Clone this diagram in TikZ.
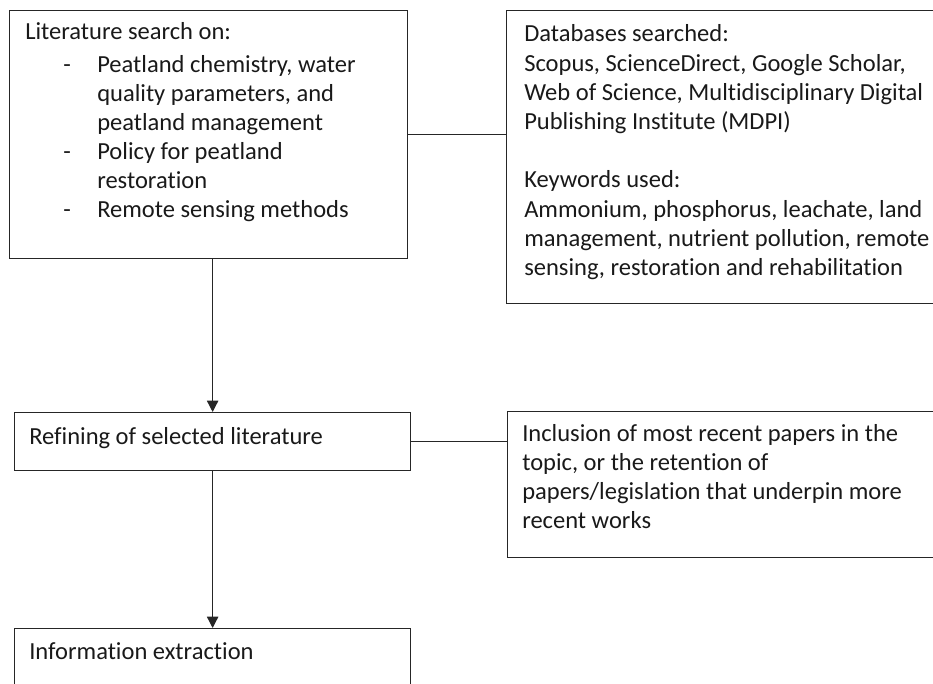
\documentclass[tikz,border=0pt]{standalone}
\usepackage{fontspec}
\setmainfont{Carlito}[Ligatures=NoCommon,RawFeature={-liga;-calt;-clig}]
\usetikzlibrary{arrows.meta}
\begin{document}
\begin{tikzpicture}[x=0.75pt,y=-0.75pt,
  box/.style={draw=black!85,line width=0.95pt,inner sep=0pt,anchor=north west},
  txt/.style={anchor=base west,inner sep=0pt,font=\fontsize{18.4pt}{21.9pt}\selectfont,text=black!90},
  conn/.style={draw=black!85,line width=0.95pt},
  arr/.style={conn,-{Triangle[width=8.5pt,length=8.5pt]}}]
\useasboundingbox (0,0) rectangle (933,684);
\clip (0,0) rectangle (933,684);
% boxes
\node[box,minimum width=298.9pt,minimum height=186pt] (b1) at (8.5,10) {};
\node[box,minimum width=329.25pt,minimum height=219.75pt] (b2) at (506,10) {};
\node[box,minimum width=297pt,minimum height=43.5pt] (b3) at (14,412) {};
\node[box,minimum width=328.5pt,minimum height=109.5pt] (b4) at (507,411) {};
\node[box,minimum width=297pt,minimum height=54pt] (b5) at (14,628) {};
% box 1 text
\node[txt] (l0) at (25,39.5) {Literature search on:};
\foreach \t [count=\i] in {{Peatland chemistry, water},{quality parameters, and},{peatland management},{Policy for peatland},{restoration},{Remote sensing methods}}
  \node[txt,name=l\i] at (97,{72.5+29.1*(\i-1)}) {\t};
\foreach \i in {1,4,6}
  \node[txt,name=d\i] at (63,{72.5+29.1*(\i-1)}) {-};
% box 2 text
\foreach \t [count=\i] in {{Databases searched:},{Scopus, ScienceDirect, Google Scholar,},{Web of Science, Multidisciplinary Digital},{Publishing Institute (MDPI)}}
  \node[txt,name=db\i] at (524,{42+29.2*(\i-1)}) {\t};
\foreach \t [count=\i] in {{Keywords used:},{Ammonium, phosphorus, leachate, land},{management, nutrient pollution, remote},{sensing, restoration and rehabilitation}}
  \node[txt,name=kw\i] at (524,{188+29.1*(\i-1)}) {\t};
% box 3, 4, 5 text
\node[txt] (r1) at (29,445) {Refining of selected literature};
\foreach \t [count=\i] in {{Inclusion of most recent papers in the},{topic, or the retention of},{papers/legislation that underpin more},{recent works}}
  \node[txt,name=in\i] at (522,{442+29*(\i-1)}) {\t};
\node[txt] (ie) at (29,659) {Information extraction};
% connectors
\draw[conn] (b1.east) -- (b1.east -| b2.west);
\draw[conn] (b3.east) -- (b3.east -| b4.west);
\draw[arr] (b1.south -| b3.north) -- (b3.north);
\draw[arr] (b3.south) -- (b5.north);
\end{tikzpicture}
\end{document}
